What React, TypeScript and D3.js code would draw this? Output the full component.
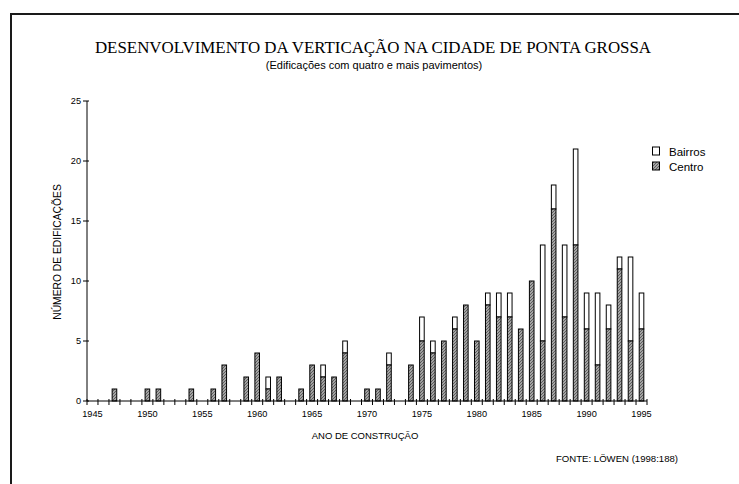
import * as d3 from 'd3';
import { useEffect, useRef } from 'react';

const years = d3.range(1945, 1996);
// values per year, 1945..1995
const centro = [
  0, 0, 1, 0, 0, 1, 1, 0, 0, 1, 0, 1, 3, 0, 2, 4, 1, 2, 0, 1, 3, 2, 2, 4, 0, 1,
  1, 3, 0, 3, 5, 4, 5, 6, 8, 5, 8, 7, 7, 6, 10, 5, 16, 7, 13, 6, 3, 6, 11, 5, 6,
];
const bairros = [
  0, 0, 0, 0, 0, 0, 0, 0, 0, 0, 0, 0, 0, 0, 0, 0, 1, 0, 0, 0, 0, 1, 0, 1, 0, 0,
  0, 1, 0, 0, 2, 1, 0, 1, 0, 0, 1, 2, 2, 0, 0, 8, 2, 6, 8, 3, 6, 2, 1, 7, 3,
];
const yTicks = [0, 5, 10, 15, 20, 25];
const labelYears = [1945, 1950, 1955, 1960, 1965, 1970, 1975, 1980, 1985, 1990, 1995];

const W = 739;
const H = 484;

export default function App() {
  const svgRef = useRef<SVGSVGElement>(null);

  useEffect(() => {
    if (!svgRef.current) return;
    const svg = d3.select(svgRef.current);
    svg.selectAll('*').remove();

    const margin = { left: 87, right: 92, top: 101, bottom: 83 };
    const x0 = margin.left;
    const x1 = W - margin.right;
    const y0 = H - margin.bottom;

    const x = d3.scaleBand<number>().domain(years).range([x0, x1]).paddingInner(0.58).paddingOuter(0.29);
    const xEdge = d3.scaleLinear().domain([0, years.length]).range([x0, x1]);
    const y = d3.scaleLinear().domain([0, 25]).range([y0, margin.top]);

    // hatch pattern for Centro
    const pat = svg
      .append('defs')
      .append('pattern')
      .attr('id', 'hatch')
      .attr('patternUnits', 'userSpaceOnUse')
      .attr('width', 3)
      .attr('height', 3);
    pat.append('rect').attr('width', 3).attr('height', 3).attr('fill', '#a4a4a4');
    pat
      .append('path')
      .attr('d', 'M-1,1 l2,-2 M0,3 l3,-3 M2,4 l2,-2')
      .attr('stroke', '#555')
      .attr('stroke-width', 0.9);

    // frame
    svg
      .append('path')
      .attr('d', `M11,${H + 5} V14 H${W + 5}`)
      .attr('fill', 'none')
      .attr('stroke', '#1a1a1a')
      .attr('stroke-width', 2);

    // titles
    svg
      .append('text')
      .attr('x', 373)
      .attr('y', 53)
      .attr('text-anchor', 'middle')
      .attr('font-family', '"Liberation Serif", "Times New Roman", serif')
      .attr('font-size', 16.9)
      .text('DESENVOLVIMENTO DA VERTICAÇÃO NA CIDADE DE PONTA GROSSA');
    svg
      .append('text')
      .attr('x', 374)
      .attr('y', 69)
      .attr('text-anchor', 'middle')
      .attr('font-family', '"Liberation Sans", Arial, sans-serif')
      .attr('font-size', 11)
      .text('(Edificações com quatro e mais pavimentos)');

    const font = '"Liberation Sans", Arial, sans-serif';

    // bars
    const g = svg.append('g');
    years.forEach((yr, i) => {
      const c = centro[i];
      const b = bairros[i];
      if (c + b === 0) return;
      const bx = x(yr)!;
      const bw = x.bandwidth();
      if (b > 0) {
        g.append('rect')
          .attr('x', bx)
          .attr('y', y(c + b))
          .attr('width', bw)
          .attr('height', y(c) - y(c + b))
          .attr('fill', '#fff')
          .attr('stroke', '#000')
          .attr('stroke-width', 1);
      }
      if (c > 0) {
        g.append('rect')
          .attr('x', bx)
          .attr('y', y(c))
          .attr('width', bw)
          .attr('height', y0 - y(c))
          .attr('fill', 'url(#hatch)')
          .attr('stroke', '#000')
          .attr('stroke-width', 1);
      }
    });

    // y axis
    const ax = svg.append('g').attr('stroke', '#000').attr('stroke-width', 1);
    ax.append('line').attr('x1', x0).attr('x2', x0).attr('y1', margin.top).attr('y2', y0);
    yTicks.forEach((t) => {
      ax.append('line')
        .attr('x1', x0 - 4)
        .attr('x2', x0 + 2)
        .attr('y1', y(t))
        .attr('y2', y(t));
    });
    svg
      .append('g')
      .selectAll('text')
      .data(yTicks)
      .join('text')
      .attr('x', x0 - 6)
      .attr('y', (d) => y(d) + 3)
      .attr('text-anchor', 'end')
      .attr('font-family', font)
      .attr('font-size', 9.2)
      .text((d) => d);

    // x axis
    ax.append('line').attr('x1', x0).attr('x2', x1).attr('y1', y0).attr('y2', y0);
    d3.range(years.length + 1).forEach((i) => {
      ax.append('line')
        .attr('x1', xEdge(i))
        .attr('x2', xEdge(i))
        .attr('y1', y0 - 2)
        .attr('y2', y0 + 4);
    });
    svg
      .append('g')
      .selectAll('text')
      .data(labelYears)
      .join('text')
      .attr('x', (d) => x(d)! + x.bandwidth() / 2)
      .attr('y', y0 + 16)
      .attr('text-anchor', 'middle')
      .attr('font-family', font)
      .attr('font-size', 9.2)
      .text((d) => d);

    svg
      .append('text')
      .attr('x', 365)
      .attr('y', 439)
      .attr('text-anchor', 'middle')
      .attr('font-family', font)
      .attr('font-size', 9.5)
      .text('ANO DE CONSTRUÇÃO');

    svg
      .append('text')
      .attr('transform', `translate(61,252) rotate(-90)`)
      .attr('text-anchor', 'middle')
      .attr('font-family', font)
      .attr('font-size', 10.3)
      .text('NÚMERO DE EDIFICAÇÕES');

    svg
      .append('text')
      .attr('x', 617)
      .attr('y', 462)
      .attr('text-anchor', 'middle')
      .attr('font-family', font)
      .attr('font-size', 9.6)
      .text('FONTE: LÖWEN (1998:188)');

    // legend
    const legend = [
      { name: 'Bairros', fill: '#fff' },
      { name: 'Centro', fill: 'url(#hatch)' },
    ];
    legend.forEach((d, i) => {
      const ly = 147 + i * 15;
      svg.append('rect')
        .attr('x', 652.5)
        .attr('y', ly)
        .attr('width', 7)
        .attr('height', 8)
        .attr('fill', d.fill)
        .attr('stroke', '#000');
      svg.append('text')
        .attr('x', 669)
        .attr('y', ly + 9)
        .attr('font-family', font)
        .attr('font-size', 11.5)
        .text(d.name);
    });
  }, []);

  return (
    <svg
      ref={svgRef}
      width={W}
      height={H}
      viewBox={`0 0 ${W} ${H}`}
      style={{ position: 'absolute', left: 0, top: 0, background: '#fff' }}
    />
  );
}
